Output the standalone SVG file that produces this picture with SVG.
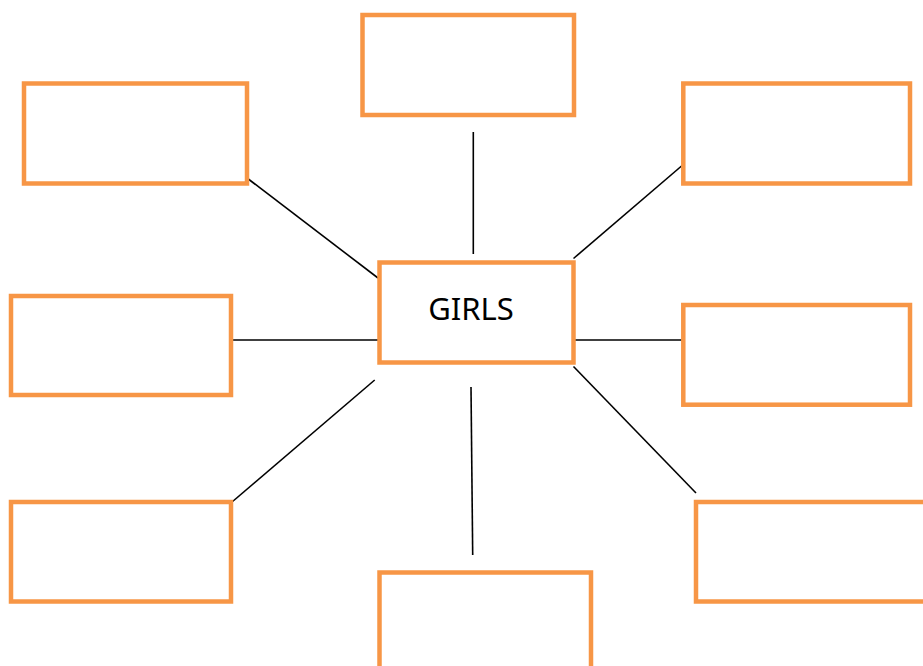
<svg xmlns="http://www.w3.org/2000/svg" width="923" height="666" viewBox="0 0 923 666">
<style>
.box{fill:#ffffff;stroke:#F79646;stroke-width:4.5}
.ln{stroke:#000000;stroke-width:1.6;fill:none}
.lbl{font-family:"Noto Sans","Open Sans",sans-serif;font-size:31px;fill:#000000}
</style>
<rect width="923" height="666" fill="#ffffff"/>
<g id="connectors">
<line class="ln" x1="473.3" y1="132" x2="473.3" y2="254"/>
<line class="ln" x1="248.3" y1="179" x2="378" y2="278"/>
<line class="ln" x1="682.7" y1="165" x2="573.5" y2="258.5"/>
<line class="ln" x1="232" y1="340" x2="378" y2="340"/>
<line class="ln" x1="573.5" y1="340" x2="683" y2="340"/>
<line class="ln" x1="232" y1="502" x2="374.7" y2="380"/>
<line class="ln" x1="471" y1="387" x2="472.7" y2="555"/>
<line class="ln" x1="573.5" y1="366.5" x2="696" y2="493"/>
</g>
<g id="center">
<rect class="box" x="379.5" y="262.5" width="194" height="100"/>
<text class="lbl" x="471" y="320" text-anchor="middle">GIRLS</text>
</g>
<g id="top"><rect class="box" x="362.5" y="15" width="211.5" height="100"/></g>
<g id="top-left"><rect class="box" x="24" y="83.5" width="223" height="100"/></g>
<g id="top-right"><rect class="box" x="683.3" y="83.5" width="226.7" height="100"/></g>
<g id="mid-left"><rect class="box" x="11" y="296" width="220" height="99"/></g>
<g id="mid-right"><rect class="box" x="683.3" y="305" width="226.7" height="99.7"/></g>
<g id="bottom-left"><rect class="box" x="11" y="502" width="220" height="99.5"/></g>
<g id="bottom-right"><rect class="box" x="696" y="502" width="240" height="99.5"/></g>
<g id="bottom"><rect class="box" x="379.5" y="572.5" width="211.5" height="120"/></g>
</svg>
